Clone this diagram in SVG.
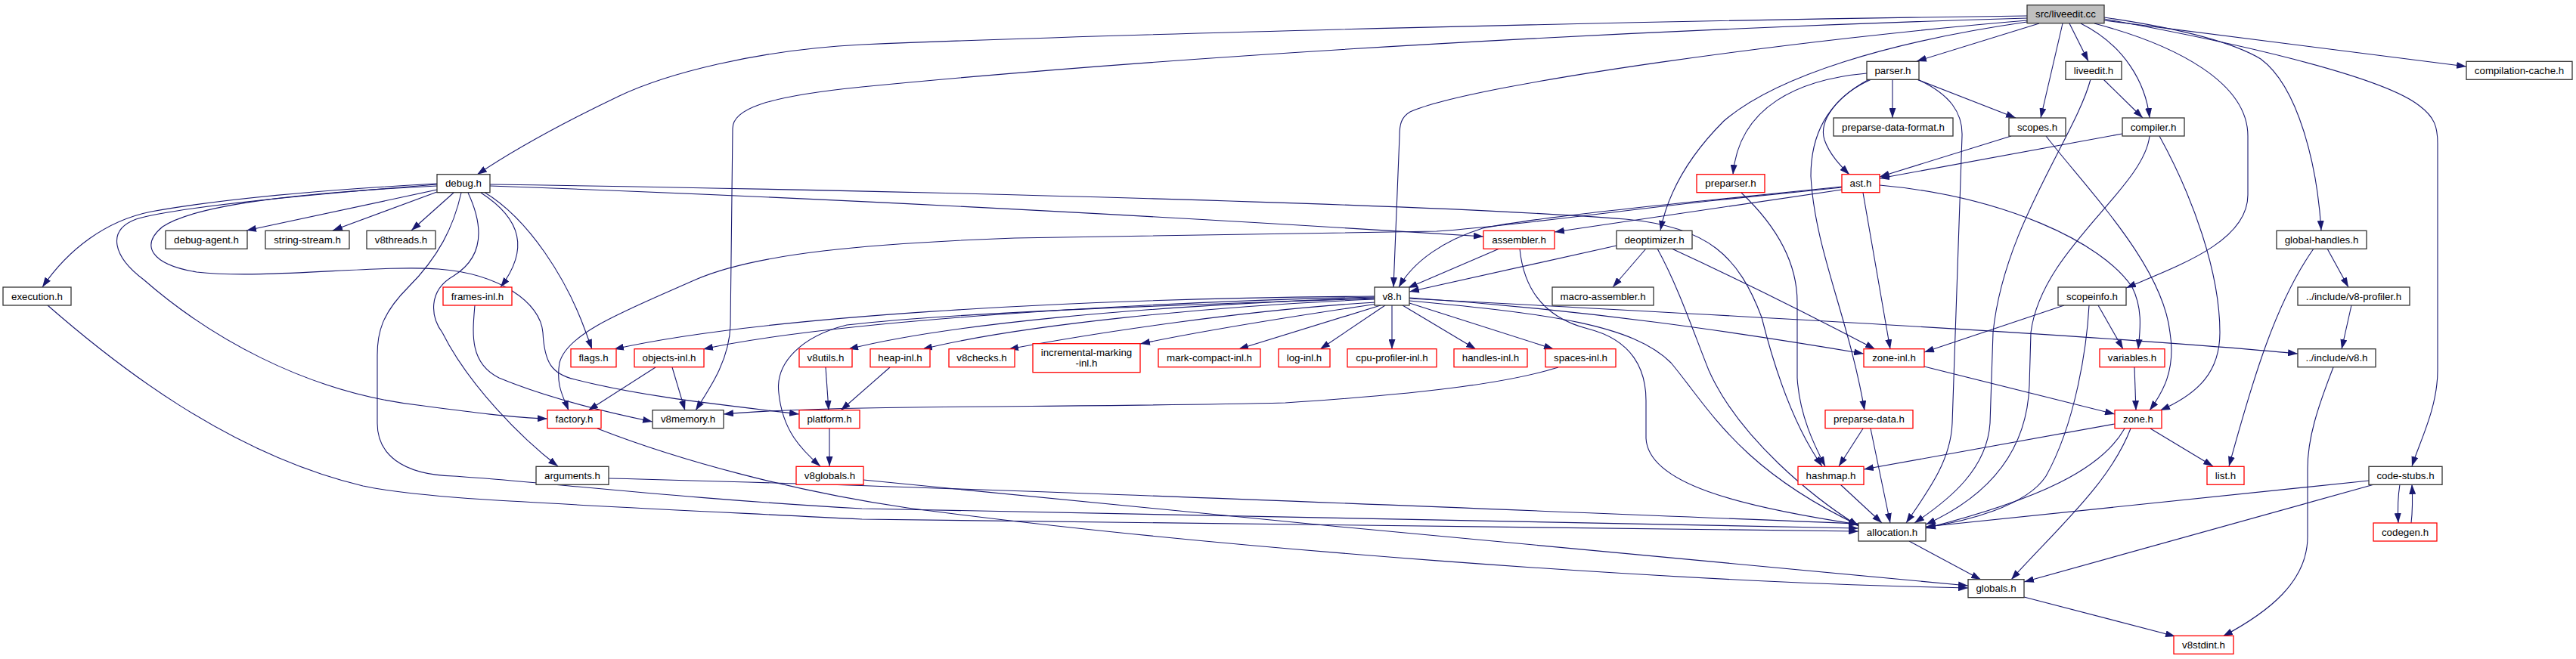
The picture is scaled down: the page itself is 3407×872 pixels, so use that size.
<svg xmlns="http://www.w3.org/2000/svg" width="3407" height="872" viewBox="0 0 3407 872">
<style>
.e path{fill:none;stroke:#191970;stroke-width:1.1;marker-end:url(#arr)}
.n rect{fill:#fff;stroke:#333;stroke-width:1.3}
.n.r rect{stroke:#f00}
.n.root rect{fill:#bfbfbf}
.n text{font-family:"Liberation Sans",Arial,Helvetica,sans-serif;font-size:13.3px;text-anchor:middle;fill:#000}
</style>
<defs>
<marker id="arr" markerUnits="userSpaceOnUse" viewBox="0 0 13 9" markerWidth="13" markerHeight="9" refX="13" refY="4.5" orient="auto"><path d="M0,0 L13,4.5 L0,9 z" fill="#191970"/></marker>
</defs>
<rect width="3407" height="872" fill="#fff"/>
<g id="edges" class="e">
<path d="M2681,21 C2200,27 1500,44 1140,59 C1000,66 880,98 819,127 C750,160 680,198 631,231"/>
<path d="M2681,24 C2200,38 1600,70 1140,115 C1010,128 969,145 969,170 L966,430 C965,475 940,512 920,543"/>
<path d="M2681,27 C2400,50 1950,110 1865,148 C1853,155 1851,165 1851,180 L1843,380"/>
<path d="M2681,29 C2500,55 2350,100 2280,160 C2230,210 2205,260 2196,305"/>
<path d="M2697,31 L2535,81"/>
<path d="M2728,31 L2699,156"/>
<path d="M2737,31 L2762,81"/>
<path d="M2752,31 C2810,60 2838,110 2843,156"/>
<path d="M2770,31 C2880,60 2973,110 2973,180 L2973,258 C2973,320 2880,352 2812,381"/>
<path d="M2783,23 C2900,40 2960,60 2990,78 C3040,115 3065,220 3070,305"/>
<path d="M2783,25 C2950,55 3150,100 3200,140 C3220,155 3224,168 3224,190 L3224,490 C3224,540 3200,585 3190,617"/>
<path d="M2783,27 L3262,88"/>
<path d="M2503,105 L2503,156"/>
<path d="M2535,105 L2666,156"/>
<path d="M2469,97 C2380,105 2300,140 2292,231"/>
<path d="M2475,105 C2430,125 2405,160 2413,185 C2420,205 2435,220 2446,231"/>
<path d="M2472,105 C2415,135 2395,180 2395,233 C2400,330 2445,420 2466,543"/>
<path d="M2536,105 C2580,125 2596,150 2595,180 L2582,560 C2580,610 2550,650 2521,692"/>
<path d="M2782,105 L2834,156"/>
<path d="M2765,105 C2745,180 2650,300 2636,440 L2632,560 C2628,620 2580,660 2532,692"/>
<path d="M2807,177 L2486,236"/>
<path d="M2843,180 C2835,250 2700,330 2686,440 L2684,510 C2680,620 2600,670 2547,694"/>
<path d="M2856,180 C2900,260 2936,360 2936,440 C2936,490 2910,520 2857,543"/>
<path d="M2660,180 L2486,234"/>
<path d="M2706,180 C2760,250 2860,350 2870,440 C2878,490 2860,520 2843,543"/>
<path d="M578,251 L326,305"/>
<path d="M578,254 L440,305"/>
<path d="M600,255 L544,305"/>
<path d="M578,243 C450,250 300,262 200,280 C140,292 90,330 56,380"/>
<path d="M578,244 C400,258 230,275 180,290 C140,305 150,340 190,370 C270,440 400,520 560,537 C620,545 680,553 724,554"/>
<path d="M578,246 C400,255 260,270 215,300 C185,325 200,350 260,360 C350,370 500,350 580,356 C660,362 715,400 718,440 C720,480 730,495 760,502 C850,525 950,535 1057,548"/>
<path d="M610,255 C600,300 580,340 540,380 C505,415 499,440 499,470 L499,560 C499,600 530,628 600,630 C700,636 900,660 1140,673 L2458,699"/>
<path d="M619,255 C640,300 640,340 600,365 C565,385 570,420 585,440 C620,510 690,580 738,617"/>
<path d="M636,255 C690,290 700,330 662,380"/>
<path d="M640,254 C700,290 750,370 775,440 L783,462"/>
<path d="M648,246 C1100,262 1600,290 1962,313"/>
<path d="M648,244 C1200,252 1900,270 2150,290 C2260,300 2300,340 2330,420 C2345,480 2370,560 2410,617"/>
<path d="M2303,255 C2340,290 2377,340 2377,400 L2377,500 C2380,550 2400,590 2414,617"/>
<path d="M2436,247 L2260,265 C2150,276 2020,290 1961,302 C1910,318 1870,345 1850,380"/>
<path d="M2436,251 L2056,307"/>
<path d="M2436,248 L2260,266 C2100,284 1990,300 1900,306 L1342,315 C1150,322 1000,335 920,370 C830,410 750,440 740,480 C735,510 745,525 752,543"/>
<path d="M2464,255 L2500,462"/>
<path d="M2486,245 C2650,260 2780,320 2820,380 C2835,410 2830,440 2828,462"/>
<path d="M1983,329 L1862,381"/>
<path d="M2010,329 C2015,380 2040,420 2100,435 C2160,450 2177,490 2177,530 L2177,580 C2180,640 2300,670 2458,694"/>
<path d="M2138,325 L1864,386"/>
<path d="M2177,329 L2133,380"/>
<path d="M2211,329 C2300,370 2400,420 2480,462"/>
<path d="M2192,329 C2220,380 2240,440 2260,490 C2300,580 2400,660 2458,696"/>
<path d="M3078,329 L3106,380"/>
<path d="M3060,329 C3010,400 2980,500 2948,617"/>
<path d="M63,404 C150,480 300,600 480,643 C560,660 700,665 1140,687 L2458,703"/>
<path d="M628,404 C625,440 620,480 660,500 C720,525 800,545 863,558"/>
<path d="M1818,392 C1400,395 1000,420 812,462"/>
<path d="M1818,393 C1500,400 1100,425 930,462"/>
<path d="M1818,394 C1500,405 1250,430 1122,462"/>
<path d="M1818,395 C1500,405 1250,415 1120,430 C1060,445 1025,480 1030,520 C1035,570 1060,595 1085,617"/>
<path d="M1818,396 C1600,405 1350,430 1220,462"/>
<path d="M1820,400 C1650,410 1450,440 1334,462"/>
<path d="M1822,402 C1700,420 1580,440 1508,455"/>
<path d="M1826,404 L1638,462"/>
<path d="M1832,404 L1746,462"/>
<path d="M1841,404 L1841,462"/>
<path d="M1855,404 L1952,462"/>
<path d="M1864,401 L2055,462"/>
<path d="M1864,394 C2100,410 2300,440 2465,468"/>
<path d="M1864,395 C2300,418 2800,445 3039,468"/>
<path d="M1864,398 C2050,415 2160,430 2210,480 C2260,540 2300,620 2458,695"/>
<path d="M2730,404 L2545,466"/>
<path d="M2763,404 C2760,460 2745,560 2706,630 C2680,670 2600,690 2547,698"/>
<path d="M2775,404 L2808,462"/>
<path d="M3110,404 L3097,462"/>
<path d="M867,486 L778,543"/>
<path d="M889,486 L906,543"/>
<path d="M1092,486 L1096,543"/>
<path d="M1177,486 L1112,543"/>
<path d="M2061,486 C2000,505 1900,520 1700,533 C1400,540 1100,535 957,548"/>
<path d="M2545,485 L2797,548"/>
<path d="M2823,486 L2825,543"/>
<path d="M790,567 C900,610 1050,650 1200,672 C1600,725 2200,770 2603,778"/>
<path d="M1097,567 L1097,617"/>
<path d="M2464,567 L2432,617"/>
<path d="M2474,567 L2500,692"/>
<path d="M2797,561 L2465,621"/>
<path d="M2844,567 L2927,617"/>
<path d="M2810,567 C2780,620 2700,660 2547,699"/>
<path d="M2818,567 C2790,640 2720,700 2660,767"/>
<path d="M805,633 C1300,645 2000,675 2458,693"/>
<path d="M1142,635 C1600,680 2200,740 2603,775"/>
<path d="M2434,641 L2489,692"/>
<path d="M3133,636 L2547,697"/>
<path d="M3140,641 L2677,770"/>
<path d="M3174,641 C3171,660 3171,675 3172,692"/>
<path d="M3189,692 C3191,675 3191,660 3190,641"/>
<path d="M2525,716 L2620,767"/>
<path d="M2677,790 L2877,842"/>
<path d="M3086,486 C3065,540 3052,580 3052,620 L3052,710 C3052,770 3000,810 2940,842"/>
</g>
<g id="n-liveedit-cc" class="n root"><rect x="2681" y="6.7" width="102" height="24"/><text x="2732" y="23.3">src/liveedit.cc</text></g>
<g id="n-parser-h" class="n"><rect x="2469" y="81.3" width="69" height="24"/><text x="2503.5" y="97.9">parser.h</text></g>
<g id="n-liveedit-h" class="n"><rect x="2732" y="81.3" width="74" height="24"/><text x="2769" y="97.9">liveedit.h</text></g>
<g id="n-compilation-cache-h" class="n"><rect x="3262" y="81.3" width="140" height="24"/><text x="3332" y="97.9">compilation-cache.h</text></g>
<g id="n-preparse-data-format-h" class="n"><rect x="2425" y="156" width="158" height="24"/><text x="2504" y="172.6">preparse-data-format.h</text></g>
<g id="n-scopes-h" class="n"><rect x="2657" y="156" width="75" height="24"/><text x="2694.5" y="172.6">scopes.h</text></g>
<g id="n-compiler-h" class="n"><rect x="2807" y="156" width="82" height="24"/><text x="2848" y="172.6">compiler.h</text></g>
<g id="n-debug-h" class="n"><rect x="578" y="230.7" width="70" height="24"/><text x="613" y="247.3">debug.h</text></g>
<g id="n-preparser-h" class="n r"><rect x="2244" y="230.7" width="90" height="24"/><text x="2289" y="247.3">preparser.h</text></g>
<g id="n-ast-h" class="n r"><rect x="2436" y="230.7" width="50" height="24"/><text x="2461" y="247.3">ast.h</text></g>
<g id="n-debug-agent-h" class="n"><rect x="219" y="305.3" width="108" height="24"/><text x="273" y="321.9">debug-agent.h</text></g>
<g id="n-string-stream-h" class="n"><rect x="351" y="305.3" width="111" height="24"/><text x="406.5" y="321.9">string-stream.h</text></g>
<g id="n-v8threads-h" class="n"><rect x="485" y="305.3" width="91" height="24"/><text x="530.5" y="321.9">v8threads.h</text></g>
<g id="n-assembler-h" class="n r"><rect x="1962" y="305.3" width="94" height="24"/><text x="2009" y="321.9">assembler.h</text></g>
<g id="n-deoptimizer-h" class="n"><rect x="2138" y="305.3" width="100" height="24"/><text x="2188" y="321.9">deoptimizer.h</text></g>
<g id="n-global-handles-h" class="n"><rect x="3011" y="305.3" width="119" height="24"/><text x="3070.5" y="321.9">global-handles.h</text></g>
<g id="n-execution-h" class="n"><rect x="4" y="380" width="90" height="24"/><text x="49" y="396.6">execution.h</text></g>
<g id="n-frames-inl-h" class="n r"><rect x="586" y="380" width="91" height="24"/><text x="631.5" y="396.6">frames-inl.h</text></g>
<g id="n-v8-h" class="n"><rect x="1818" y="380" width="46" height="24"/><text x="1841" y="396.6">v8.h</text></g>
<g id="n-macro-assembler-h" class="n"><rect x="2053" y="380" width="134" height="24"/><text x="2120" y="396.6">macro-assembler.h</text></g>
<g id="n-scopeinfo-h" class="n"><rect x="2722" y="380" width="90" height="24"/><text x="2767" y="396.6">scopeinfo.h</text></g>
<g id="n-include-v8-profiler-h" class="n"><rect x="3039" y="380" width="148" height="24"/><text x="3113" y="396.6">../include/v8-profiler.h</text></g>
<g id="n-flags-h" class="n r"><rect x="755" y="461.7" width="60" height="24"/><text x="785" y="478.3">flags.h</text></g>
<g id="n-objects-inl-h" class="n r"><rect x="839" y="461.7" width="92" height="24"/><text x="885" y="478.3">objects-inl.h</text></g>
<g id="n-v8utils-h" class="n r"><rect x="1057" y="461.7" width="70" height="24"/><text x="1092" y="478.3">v8utils.h</text></g>
<g id="n-heap-inl-h" class="n r"><rect x="1151" y="461.7" width="79" height="24"/><text x="1190.5" y="478.3">heap-inl.h</text></g>
<g id="n-v8checks-h" class="n r"><rect x="1255" y="461.7" width="87" height="24"/><text x="1298.5" y="478.3">v8checks.h</text></g>
<g id="n-incremental-marking-inl-h" class="n r"><rect x="1366" y="454.7" width="142" height="38"/><text x="1437" y="471">incremental-marking</text><text x="1437" y="485">-inl.h</text></g>
<g id="n-mark-compact-inl-h" class="n r"><rect x="1532" y="461.7" width="135" height="24"/><text x="1599.5" y="478.3">mark-compact-inl.h</text></g>
<g id="n-log-inl-h" class="n r"><rect x="1691" y="461.7" width="68" height="24"/><text x="1725" y="478.3">log-inl.h</text></g>
<g id="n-cpu-profiler-inl-h" class="n r"><rect x="1782" y="461.7" width="118" height="24"/><text x="1841" y="478.3">cpu-profiler-inl.h</text></g>
<g id="n-handles-inl-h" class="n r"><rect x="1923" y="461.7" width="97" height="24"/><text x="1971.5" y="478.3">handles-inl.h</text></g>
<g id="n-spaces-inl-h" class="n r"><rect x="2044" y="461.7" width="93" height="24"/><text x="2090.5" y="478.3">spaces-inl.h</text></g>
<g id="n-zone-inl-h" class="n r"><rect x="2465" y="461.7" width="80" height="24"/><text x="2505" y="478.3">zone-inl.h</text></g>
<g id="n-variables-h" class="n r"><rect x="2777" y="461.7" width="86" height="24"/><text x="2820" y="478.3">variables.h</text></g>
<g id="n-include-v8-h" class="n"><rect x="3039" y="461.7" width="103" height="24"/><text x="3090.5" y="478.3">../include/v8.h</text></g>
<g id="n-factory-h" class="n r"><rect x="724" y="542.7" width="71" height="24"/><text x="759.5" y="559.3">factory.h</text></g>
<g id="n-v8memory-h" class="n"><rect x="863" y="542.7" width="94" height="24"/><text x="910" y="559.3">v8memory.h</text></g>
<g id="n-platform-h" class="n r"><rect x="1057" y="542.7" width="80" height="24"/><text x="1097" y="559.3">platform.h</text></g>
<g id="n-preparse-data-h" class="n r"><rect x="2414" y="542.7" width="116" height="24"/><text x="2472" y="559.3">preparse-data.h</text></g>
<g id="n-zone-h" class="n r"><rect x="2797" y="542.7" width="62" height="24"/><text x="2828" y="559.3">zone.h</text></g>
<g id="n-arguments-h" class="n"><rect x="709" y="617.3" width="96" height="24"/><text x="757" y="633.9">arguments.h</text></g>
<g id="n-v8globals-h" class="n r"><rect x="1053" y="617.3" width="89" height="24"/><text x="1097.5" y="633.9">v8globals.h</text></g>
<g id="n-hashmap-h" class="n r"><rect x="2378" y="617.3" width="87" height="24"/><text x="2421.5" y="633.9">hashmap.h</text></g>
<g id="n-list-h" class="n r"><rect x="2919" y="617.3" width="49" height="24"/><text x="2943.5" y="633.9">list.h</text></g>
<g id="n-code-stubs-h" class="n"><rect x="3133" y="617.3" width="97" height="24"/><text x="3181.5" y="633.9">code-stubs.h</text></g>
<g id="n-allocation-h" class="n"><rect x="2458" y="692" width="89" height="24"/><text x="2502.5" y="708.6">allocation.h</text></g>
<g id="n-codegen-h" class="n r"><rect x="3139" y="692" width="84" height="24"/><text x="3181" y="708.6">codegen.h</text></g>
<g id="n-globals-h" class="n"><rect x="2603" y="766.7" width="74" height="24"/><text x="2640" y="783.3">globals.h</text></g>
<g id="n-v8stdint-h" class="n r"><rect x="2875" y="841.3" width="79" height="24"/><text x="2914.5" y="857.9">v8stdint.h</text></g>
</svg>
